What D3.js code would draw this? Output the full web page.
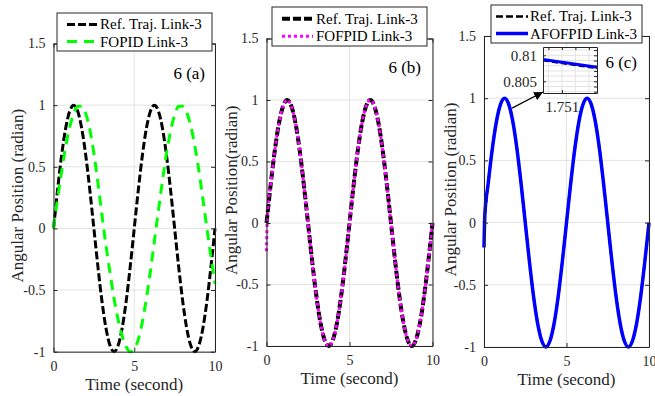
<!DOCTYPE html>
<html>
<head>
<meta charset="utf-8">
<script src="https://cdn.jsdelivr.net/npm/d3@7"></script>
<style>
  body { margin: 0; background: #fff; }
  svg, svg text { font-family: "Liberation Serif", "Tinos", "Times New Roman", "DejaVu Serif", serif !important; }
  text { fill: #262626; }
</style>
</head>
<body>
<div id="chart"></div>
<script>
// Sample times (s)
var time = [0, 0.05, 0.25, 0.5, 0.75, 1, 1.25, 1.5, 1.75, 2, 2.25, 2.5, 2.75, 3, 3.25, 3.5, 3.75, 4,
  4.25, 4.5, 4.75, 5, 5.25, 5.5, 5.75, 6, 6.25, 6.5, 6.75, 7, 7.25, 7.5, 7.75, 8, 8.25, 8.5, 8.75,
  9, 9.25, 9.5, 9.75, 10]

// Reference trajectory, link-3 (rad)
var refTraj = [0, 0.06, 0.31, 0.59, 0.81, 0.95, 1, 0.95, 0.81, 0.59, 0.31, 0, -0.31, -0.59, -0.81,
  -0.95, -1, -0.95, -0.81, -0.59, -0.31, 0, 0.31, 0.59, 0.81, 0.95, 1, 0.95, 0.81, 0.59, 0.31, 0,
  -0.31, -0.59, -0.81, -0.95, -1, -0.95, -0.81, -0.59, -0.31, 0]

// FOPID response, link-3 (rad)
var fopid = [0, 0.05, 0.24, 0.46, 0.66, 0.82, 0.93, 0.99, 0.99, 0.93, 0.8, 0.61, 0.37, 0.11, -0.14,
  -0.36, -0.57, -0.74, -0.87, -0.96, -1, -0.98, -0.9, -0.76, -0.57, -0.35, -0.1, 0.15, 0.39, 0.61,
  0.79, 0.92, 0.99, 0.99, 0.94, 0.83, 0.67, 0.47, 0.24, 0, -0.23, -0.45]

// FOFPID response, link-3 (rad)
var fofpid = [-0.23, 0.06, 0.31, 0.59, 0.81, 0.95, 1, 0.95, 0.81, 0.59, 0.31, 0, -0.31, -0.59, -0.81,
  -0.95, -1, -0.95, -0.81, -0.59, -0.31, 0, 0.31, 0.59, 0.81, 0.95, 1, 0.95, 0.81, 0.59, 0.31, 0,
  -0.31, -0.59, -0.81, -0.95, -1, -0.95, -0.81, -0.59, -0.31, 0]

// AFOFPID response, link-3 (rad)
var afofpid = [-0.2, 0.06, 0.31, 0.59, 0.81, 0.95, 1, 0.95, 0.81, 0.59, 0.31, 0, -0.31, -0.59, -0.81,
  -0.95, -1, -0.95, -0.81, -0.59, -0.31, 0, 0.31, 0.59, 0.81, 0.95, 1, 0.95, 0.81, 0.59, 0.31, 0,
  -0.31, -0.59, -0.81, -0.95, -1, -0.95, -0.81, -0.59, -0.31, 0]

// Zoomed inset of panel (c)
var insetTime = [1.7503, 1.7523]
var insetRef = [0.809, 0.8075]
var insetAfofpid = [0.8092, 0.8077]

// Ticks
var xTicks = [0, 5, 10]
var yTicks = [-1, -0.5, 0, 0.5, 1, 1.5]
var insetYTicks = [0.805, 0.81]
var insetXTicks = [1.751]
var insetYGrid = [0.803, 0.804, 0.805, 0.806, 0.807, 0.808, 0.809, 0.81, 0.811]
var insetXGrid = [1.7505, 1.751, 1.7515, 1.752]

var width = 655
var height = 396
var axisColor = '#262626'
var gridColor = '#e3e3e3'
var serif = '"Liberation Serif", "Tinos", "Times New Roman", "DejaVu Serif", serif'

var svg = d3.select('#chart').append('svg')
  .attr('width', width)
  .attr('height', height)
  .style('font-family', serif)

var defs = svg.append('defs')
defs.append('marker')
  .attr('id', 'arrowHead')
  .attr('viewBox', '0 0 10 10')
  .attr('refX', 10)
  .attr('refY', 5)
  .attr('markerWidth', 9)
  .attr('markerHeight', 9)
  .attr('markerUnits', 'userSpaceOnUse')
  .attr('orient', 'auto')
  .append('path')
  .attr('d', 'M0,0 L10,5 L0,10 z')
  .attr('fill', '#000')

var panels = [
  {
    box: { left: 53.5, right: 215, top: 43.5, bottom: 351.7 },
    yLabel: 'Angular Position (radian)', yLabelX: 17,
    tag: '6 (a)', tagX: 205, tagY: 79,
    legend: { x: 57, y: 13, w: 155, h: 38, lineX: 67, lineW: 31, textX: 100 },
    series: [
      { name: 'Ref. Traj. Link-3', values: refTraj, color: '#000', width: 3, dash: '8,3' },
      { name: 'FOPID Link-3', values: fopid, color: '#00ff00', width: 3, dash: '10,7' }
    ]
  },
  {
    box: { left: 266.5, right: 432.5, top: 38.5, bottom: 346 },
    yLabel: 'Angular Position(radian)', yLabelX: 231,
    tag: '6 (b)', tagX: 421, tagY: 73,
    legend: { x: 272, y: 7, w: 155, h: 39, lineX: 282, lineW: 31, textX: 316 },
    series: [
      { name: 'Ref. Traj. Link-3', values: refTraj, color: '#000', width: 4, dash: '8,3' },
      { name: 'FOFPID Link-3', values: fofpid, color: '#ff00ff', width: 3, dash: '3,3' }
    ]
  },
  {
    box: { left: 484, right: 649, top: 36, bottom: 347 },
    yLabel: 'Angular Position (radian)', yLabelX: 450,
    tag: '6 (c)', tagX: 637, tagY: 68,
    legend: { x: 491, y: 5, w: 151, h: 38, lineX: 496, lineW: 32, textX: 530 },
    series: [
      { name: 'Ref. Traj. Link-3', values: refTraj, color: '#000', width: 2.5, dash: '7,3' },
      { name: 'AFOFPID Link-3', values: afofpid, color: '#0000ff', width: 3.5, dash: null }
    ]
  }
]

function styleAxis(a, size) {
  a.attr('font-family', serif)
  a.selectAll('path, line').attr('stroke', axisColor)
  a.selectAll('text')
    .style('font-family', serif)
    .style('font-size', size + 'px')
    .attr('fill', axisColor)
}

panels.forEach(function (p, idx) {
  var b = p.box
  var w = b.right - b.left
  var h = b.bottom - b.top

  var xScale = d3.scaleLinear().domain([0, 10]).range([0, w])
  var yScale = d3.scaleLinear().domain([-1, 1.5]).range([h, 0])

  var g = svg.append('g')
    .attr('transform', 'translate(' + b.left + ',' + b.top + ')')

  // Grid
  var grid = g.append('g').attr('class', 'grid')
  grid.selectAll('line.gy')
    .data(yTicks)
    .enter().append('line')
    .attr('x1', 0).attr('x2', w)
    .attr('y1', function (d) { return yScale(d) })
    .attr('y2', function (d) { return yScale(d) })
    .attr('stroke', gridColor)
  grid.selectAll('line.gx')
    .data(xTicks)
    .enter().append('line')
    .attr('y1', 0).attr('y2', h)
    .attr('x1', function (d) { return xScale(d) })
    .attr('x2', function (d) { return xScale(d) })
    .attr('stroke', gridColor)

  // Lines
  var line = d3.line()
    .x(function (d, i) { return xScale(time[i]) })
    .y(function (d) { return yScale(d) })
    .curve(d3.curveMonotoneX)

  p.series.forEach(function (s) {
    g.append('path')
      .datum(s.values)
      .attr('d', line)
      .attr('fill', 'none')
      .attr('stroke', s.color)
      .attr('stroke-width', s.width)
      .attr('stroke-dasharray', s.dash)
  })

  // Axes (box with inward ticks)
  var fmt = function (d) { return String(d) }
  styleAxis(g.append('g')
    .attr('transform', 'translate(0,' + h + ')')
    .call(d3.axisBottom(xScale).tickValues(xTicks).tickFormat(fmt).tickSizeInner(-4).tickSizeOuter(0).tickPadding(9)), 14)
  styleAxis(g.append('g')
    .call(d3.axisLeft(yScale).tickValues(yTicks).tickFormat(fmt).tickSizeInner(-4).tickSizeOuter(0).tickPadding(8)), 14)
  styleAxis(g.append('g')
    .call(d3.axisTop(xScale).tickValues(xTicks).tickFormat('').tickSizeInner(-4).tickSizeOuter(0)), 14)
  styleAxis(g.append('g')
    .attr('transform', 'translate(' + w + ',0)')
    .call(d3.axisRight(yScale).tickValues(yTicks).tickFormat('').tickSizeInner(-4).tickSizeOuter(0)), 14)

  // Axis titles
  svg.append('text')
    .attr('x', b.left + w / 2)
    .attr('y', b.bottom + 38)
    .attr('text-anchor', 'middle')
    .style('font-size', '17px')
    .text('Time (second)')

  svg.append('text')
    .attr('transform', 'translate(' + (p.yLabelX + 6) + ',' + (b.top + h / 2 - 2) + ') rotate(-90)')
    .attr('text-anchor', 'middle')
    .style('font-size', '17px')
    .text(p.yLabel)

  // Panel tag
  svg.append('text')
    .attr('x', p.tagX)
    .attr('y', p.tagY)
    .attr('text-anchor', 'end')
    .style('font-size', '17px')
    .style('fill', '#000')
    .text(p.tag)

  // Legend
  var L = p.legend
  var lg = svg.append('g').attr('transform', 'translate(' + L.x + ',' + L.y + ')')
  lg.append('rect')
    .attr('width', L.w).attr('height', L.h)
    .attr('fill', '#fff').attr('stroke', axisColor).attr('stroke-width', 1)
  p.series.forEach(function (s, i) {
    var cy = L.h * (i === 0 ? 0.3 : 0.75)
    lg.append('line')
      .attr('x1', L.lineX - L.x).attr('x2', L.lineX - L.x + L.lineW)
      .attr('y1', cy).attr('y2', cy)
      .attr('stroke', s.color)
      .attr('stroke-width', s.width)
      .attr('stroke-dasharray', s.dash)
    lg.append('text')
      .attr('x', L.textX - L.x)
      .attr('y', cy + 5)
      .style('font-size', '15px')
      .style('fill', '#000')
      .text(s.name)
  })

  // Inset on panel (c)
  if (idx === 2) {
    var ib = { left: 543, right: 597, top: 47, bottom: 93 }
    var iw = ib.right - ib.left
    var ih = ib.bottom - ib.top
    var ix = d3.scaleLinear().domain(insetTime).range([0, iw])
    var iy = d3.scaleLinear().domain([0.80275, 0.8116]).range([ih, 0])

    var ig = svg.append('g').attr('transform', 'translate(' + ib.left + ',' + ib.top + ')')
    ig.append('rect')
      .attr('width', iw).attr('height', ih)
      .attr('fill', '#fff')
    ig.selectAll('line.igy').data(insetYGrid).enter().append('line')
      .attr('x1', 0).attr('x2', iw)
      .attr('y1', function (d) { return iy(d) }).attr('y2', function (d) { return iy(d) })
      .attr('stroke', gridColor)
    ig.selectAll('line.igx').data(insetXGrid).enter().append('line')
      .attr('y1', 0).attr('y2', ih)
      .attr('x1', function (d) { return ix(d) }).attr('x2', function (d) { return ix(d) })
      .attr('stroke', gridColor)

    var iline = d3.line()
      .x(function (d, i) { return ix(insetTime[i]) })
      .y(function (d) { return iy(d) })
    ig.append('path').datum(insetRef).attr('d', iline)
      .attr('fill', 'none').attr('stroke', '#000').attr('stroke-width', 2).attr('stroke-dasharray', '6,3')
    ig.append('path').datum(insetAfofpid).attr('d', iline)
      .attr('fill', 'none').attr('stroke', '#0000ff').attr('stroke-width', 3)

    styleAxis(ig.append('g')
      .call(d3.axisLeft(iy).tickValues(insetYTicks).tickFormat(fmt).tickSizeInner(-3).tickSizeOuter(0).tickPadding(6)), 15)
    styleAxis(ig.append('g').attr('transform', 'translate(0,' + ih + ')')
      .call(d3.axisBottom(ix).tickValues(insetXTicks).tickFormat(fmt).tickSizeInner(-3).tickSizeOuter(0).tickPadding(8)), 15)
    styleAxis(ig.append('g')
      .call(d3.axisTop(ix).tickValues(insetXGrid).tickFormat('').tickSizeInner(-3).tickSizeOuter(0)), 15)
    styleAxis(ig.append('g').attr('transform', 'translate(' + iw + ',0)')
      .call(d3.axisRight(iy).tickValues(insetYGrid).tickFormat('').tickSizeInner(-3).tickSizeOuter(0)), 15)

    // Arrow from the curve to the inset
    svg.append('line')
      .attr('x1', b.left + xScale(1.7))
      .attr('y1', b.top + yScale(0.92))
      .attr('x2', ib.left)
      .attr('y2', ib.bottom - 1)
      .attr('stroke', '#000')
      .attr('stroke-width', 1.2)
      .attr('marker-end', 'url(#arrowHead)')
  }
})
</script>
</body>
</html>
